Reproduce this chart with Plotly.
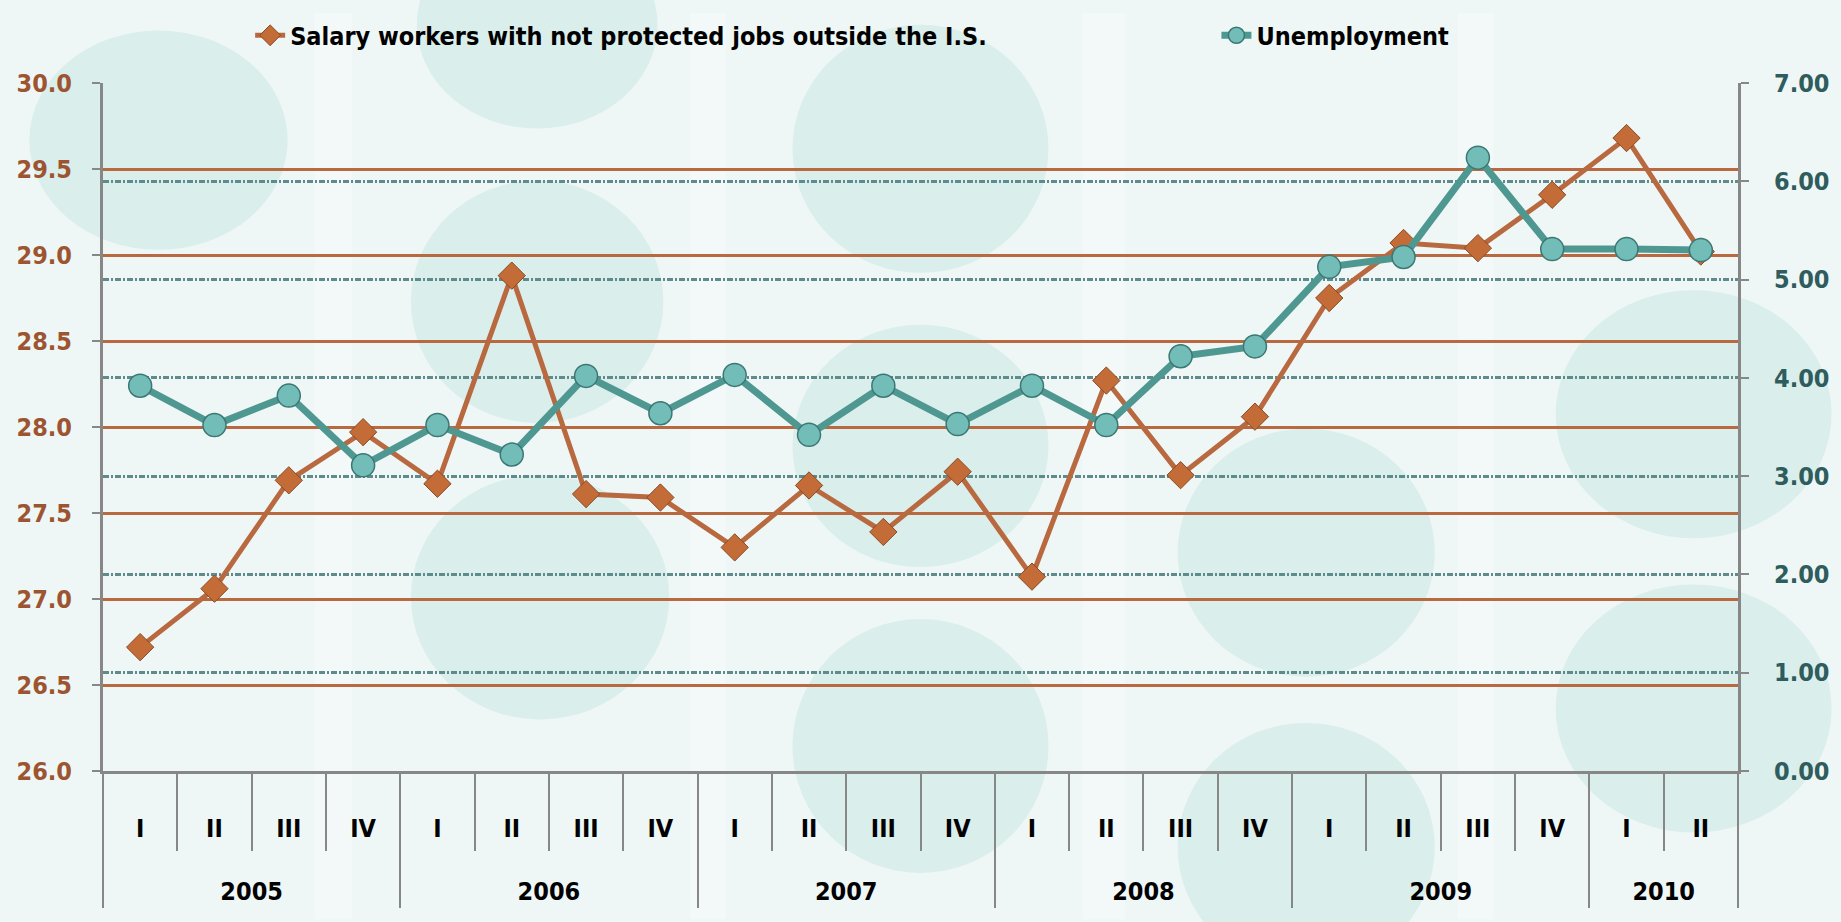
import plotly.graph_objects as go

# datos
years = ["2005"] * 4 + ["2006"] * 4 + ["2007"] * 4 + ["2008"] * 4 + ["2009"] * 4 + ["2010"] * 2
quarters = ["I", "II", "III", "IV"] * 5 + ["I", "II"]

salary = [26.72, 27.06, 27.69, 27.97, 27.67, 28.88, 27.61, 27.59, 27.30, 27.66, 27.39,
          27.74, 27.13, 28.27, 27.72, 28.06, 28.75, 29.07, 29.04, 29.35, 29.68, 29.02]
unemp = [3.92, 3.52, 3.82, 3.11, 3.52, 3.22, 4.02, 3.64, 4.03, 3.42, 3.92,
         3.53, 3.92, 3.52, 4.22, 4.32, 5.13, 5.23, 6.24, 5.31, 5.31, 5.30]

left_ticks = [26.0, 26.5, 27.0, 27.5, 28.0, 28.5, 29.0, 29.5, 30.0]
right_ticks = [0, 1, 2, 3, 4, 5, 6, 7]

# etiquetas del eje x (espacio extra arriba y abajo como en el original)
year_labels = ["<br>" + y for y in years]
quarter_labels = ["<br>" + q + "<br>&nbsp;" for q in quarters]

FONT = "Liberation Sans Narrow, DejaVu Sans Condensed, Arial Narrow, sans-serif"
BROWN = "#B9693F"
TEAL = "#4F9892"

# plot area in pixels (for the decorative bubbles)
L, R, T, B = 103, 1738, 71, 771
S = 1.1741


def px(x, y):
    return (x - L) / (R - L), (B - y) / (B - T)


shapes = []
# franjas claras verticales del fondo
for x0, x1 in [(268, 300), (588, 618), (922, 958), (1242, 1272)]:
    a0, b0 = px(x0 * S, 922)
    a1, b1 = px(x1 * S, 0)
    shapes.append(dict(type="rect", xref="paper", yref="paper", x0=a0, x1=a1, y0=b0, y1=b1,
                       fillcolor="rgba(255,255,255,0.3)", line=dict(width=0), layer="below"))

# burbujas de fondo (shrunk coords)
bubbles = [(25, 15, 245, 205), (355, -80, 560, 100), (350, 145, 565, 355), (350, 400, 570, 612),
           (675, 10, 893, 225), (675, 270, 893, 480), (675, 525, 893, 745),
           (1003, 360, 1222, 575), (1003, 615, 1222, 830), (1325, 240, 1560, 455),
           (1325, 495, 1560, 710)]
for x0, y0, x1, y1 in bubbles:
    a0, b0 = px(x0 * S, y1 * S)
    a1, b1 = px(x1 * S, y0 * S)
    shapes.append(dict(type="circle", xref="paper", yref="paper", x0=a0, x1=a1, y0=b0, y1=b1,
                       fillcolor="rgba(178,222,214,0.32)", line=dict(width=0), layer="below"))

fig = go.Figure()

fig.add_trace(go.Scatter(
    name="Salary workers with not protected jobs outside the I.S.",
    x=[year_labels, quarter_labels], y=salary, mode="lines+markers",
    line=dict(color=BROWN, width=5),
    marker=dict(symbol="diamond", size=21, color="#C46C38", line=dict(color="#8A4A25", width=1)),
    yaxis="y", legend="legend"))

fig.add_trace(go.Scatter(
    name="Unemployment",
    x=[year_labels, quarter_labels], y=unemp, mode="lines+markers",
    line=dict(color=TEAL, width=7),
    marker=dict(symbol="circle", size=23, color="#72BDB8", line=dict(color="#3C7773", width=1.5)),
    yaxis="y2", legend="legend2"))

legend_font = dict(family=FONT, size=25, color="black", weight="bold")

fig.update_layout(
    width=1841, height=922,
    margin=dict(l=L, r=1841 - R, t=T, b=922 - B),
    paper_bgcolor="#EEF7F6", plot_bgcolor="rgba(0,0,0,0)",
    font=dict(family=FONT, size=25, color="black"),
    shapes=shapes,
    showlegend=True,
    legend=dict(x=0.090, xanchor="left", y=1.069, yanchor="middle", bgcolor="rgba(0,0,0,0)",
                font=legend_font, itemwidth=30),
    legend2=dict(x=0.681, xanchor="left", y=1.069, yanchor="middle", bgcolor="rgba(0,0,0,0)",
                 font=legend_font, itemwidth=30),
    xaxis=dict(type="multicategory", range=[-0.5, 21.5], showline=True, linecolor="#878787", linewidth=3,
               ticks="outside", ticklen=77, tickwidth=2, tickcolor="#878787",
               showdividers=True, dividercolor="#878787", dividerwidth=2,
               showgrid=False, tickfont=dict(family=FONT, size=25, color="black", weight="bold")),
    yaxis=dict(range=[26, 30], tickvals=left_ticks, tickformat=".1f",
               showline=True, linecolor="#878787", linewidth=3, ticks="outside", ticklen=8,
               tickcolor="#878787", tickwidth=2, ticklabelstandoff=15,
               showgrid=True, gridcolor=BROWN, gridwidth=3, zeroline=False,
               tickfont=dict(family=FONT, size=25, color="#9C5530", weight="bold")),
    yaxis2=dict(range=[0, 7], tickvals=right_ticks, tickformat=".2f", overlaying="y", side="right",
                showline=True, linecolor="#878787", linewidth=3, ticks="outside", ticklen=8,
                tickcolor="#878787", tickwidth=2, ticklabelstandoff=20, automargin=False,
                showgrid=True, gridcolor="#5F8B8C", gridwidth=3, griddash="6px,2px,2px,2px",
                zeroline=False,
                tickfont=dict(family=FONT, size=25, color="#2F5C5C", weight="bold")),
)

fig.write_html("out.html", config={"displayModeBar": False},
               post_script="document.body.style.margin='0px';")
